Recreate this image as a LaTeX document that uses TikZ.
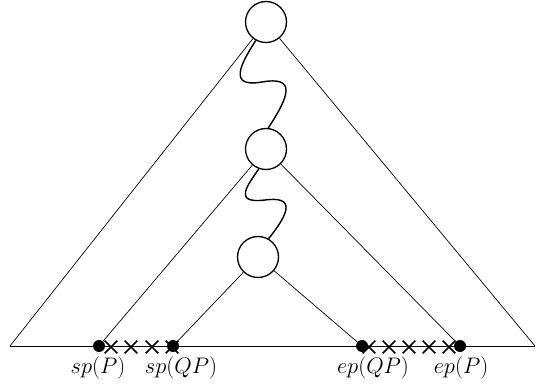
\RequirePackage{fix-cm}
\documentclass[tikz,border=0pt]{standalone}
\usetikzlibrary{shapes.misc}
\tikzset{cir/.style={circle, draw, line width=1.3pt, minimum size=41pt, inner sep=0pt, fill=white}}
\tikzset{pt/.style={circle, fill, inner sep=0pt, minimum size=12pt}}
\tikzset{crs/.style={cross out, draw, line width=1.6pt, inner sep=0pt, minimum size=11pt}}
\tikzset{lbl/.style={font=\fontsize{22.5}{25}\selectfont}}
\begin{document}
\begin{tikzpicture}[x=1pt,y=-1pt]
\useasboundingbox (0,0) rectangle (535,387);
\coordinate (l) at (10,346);
\coordinate (r) at (535,346);
\draw[line width=0.7pt] (l)--(r);
\node[cir](c1) at (266,22){};
\node[cir](c2) at (266,149){};
\node[cir](c3) at (258,257){};
\node[pt](s1) at (99,346){};
\node[pt](s2) at (173,346){};
\node[pt](e2) at (362,346){};
\node[pt](e1) at (460,346){};
\foreach \x in {111,131,152,172}{\node[crs](xl\x) at (\x,347){};}
\foreach \x in {369,389,409,429,449}{\node[crs](xr\x) at (\x,347){};}
\draw[line width=0.7pt]
\foreach \a/\b in {c1/l,c1/r,c2/s1,c2/e1,c3/s2,c3/e2}{
(\a)--(\b)
}
;
\draw[line width=1.4pt]
(c1.241) .. controls (240,65) and (228,88) .. (262,82)
 .. controls (296,76) and (290,95) .. (c2.84)
(c2.250) .. controls (248,185) and (232,204) .. (265,200)
 .. controls (295,196) and (290,212) .. (c3.60)
;
\node[lbl](ls1) at (98,367.5){$sp(P)$};
\node[lbl](ls2) at (181,367.5){$sp(QP)$};
\node[lbl](le2) at (373,367.5){$ep(QP)$};
\node[lbl](le1) at (461,367.5){$ep(P)$};
\end{tikzpicture}
\end{document}
